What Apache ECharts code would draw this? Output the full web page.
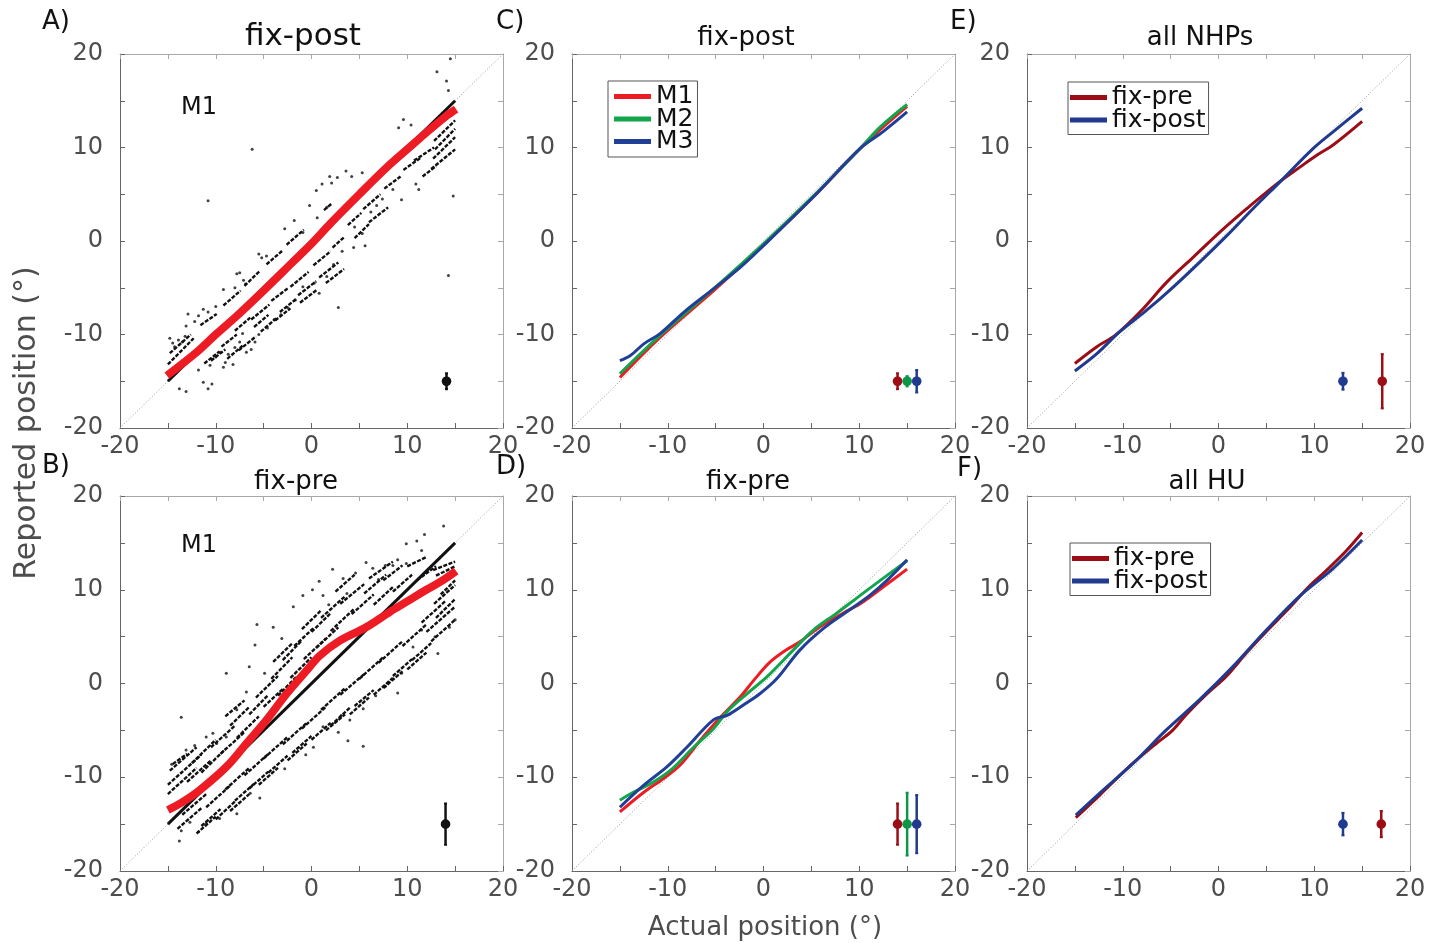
<!DOCTYPE html>
<html>
<head>
<meta charset="utf-8">
<title>Reported vs actual position</title>
<script src="https://cdn.jsdelivr.net/npm/echarts@6/dist/echarts.min.js"></script>
<style>
html, body { margin: 0; padding: 0; background: #fff; }
#chart { width: 1430px; height: 943px; }
</style>
</head>
<body>
<div id="chart"></div>
<script>
// ---- data (degrees) ----
var identity = [[-15, -15], [15, 15]];
var diagonal = [[-20, -20], [20, 20]];

// A) fix-post, M1
var aMean = [[-15.1, -14.4], [-12, -11.9], [-10, -10], [-8, -8.2], [-5, -5.3], [-2, -2.3], [0, -0.3], [2, 1.9], [5, 5], [8, 8], [10, 9.8], [12, 11.6], [14, 13.3], [15.1, 14.1]];
var aDots = [[-14.8, -10.4], [-14.5, -10.9], [-14.3, -11.3], [-13.9, -10.6], [-13.5, -10.8], [-13.2, -10.2], [-12.9, -7.8], [-13.1, -9.1], [-12.2, -8.6], [-11.8, -8.0], [-11.3, -7.3], [-10.8, -7.6], [-10, -7], [-9.2, -5.2], [-8, -5], [-7.8, -3.5], [-7.5, -3.4], [-7.1, -4.2], [-6.9, -4.6], [-5.5, -1.4], [-5.2, -1.8], [-4.7, -1.6], [-2.8, 1.3], [-1.8, 2.2], [-0.9, 0.9], [-0.2, 3.8], [0.5, 5.4], [0.6, 2.5], [1.1, 6.1], [1.6, 3.6], [1.9, 6.9], [2.1, 6.2], [2.7, 6.8], [3.6, 7.5], [4.2, 6.9], [5.3, 7.3], [9.1, 12.1], [9.6, 13], [10.4, 12.4], [13.1, 18.1], [14.1, 17.1], [14.3, 16.1], [14.5, 19.5],
  [-13.8, -15.8], [-13.1, -16.1], [-11.8, -13.8], [-11.3, -15.1], [-10.8, -15.8], [-10.4, -15.3], [-10.6, -13.3], [-10, -12.4], [-9.5, -11.9], [-9.2, -13.5], [-9, -13], [-8.7, -12.1], [-8.2, -13.2], [-8, -11.4], [-7.5, -10.8], [-7.2, -9.9], [-6.8, -11.9], [-6.3, -11.6], [-5.9, -10.8], [-5.5, -10], [-4.6, -9.3], [-3.9, -8.4], [-3.2, -7.9], [-2.5, -7.1], [-1.7, -6.3], [-0.9, -4.9], [0.3, -4.5], [0.8, -5.6], [1.6, -3.8], [2.3, -2.5], [2.8, -7.1], [3.2, -1.1], [4.4, -0.7], [4.5, 1.5], [5.3, 0.8], [5.6, -0.5], [6.2, 3.1], [6.8, 3.8], [7.4, 4.5], [9.4, 4.4], [10.9, 6.1], [11.2, 5.5], [14.8, 4.8], [14.3, -3.7], [-6.2, 9.8], [-10.8, 4.3], [8.5, 5.5]];
var aStreaks = [[-15, -13.2, -12.3, -10.4], [-14.8, -12, -12.6, -10], [-11.6, -9, -9.9, -7.8], [-9.2, -6.9, -7.4, -5.3], [-7, -4.8, -5.4, -3.2], [-4.7, -2.5, -3, -1], [-2.6, -0.4, -0.8, 1.2], [1.3, 3.3, 2.1, 4],
  [-11.2, -13.1, -9.6, -11.8], [-9.4, -11.3, -7.8, -10], [-8, -9.6, -6.4, -8.2], [-7.6, -11.7, -5.8, -10.2], [-6.3, -8.4, -4.4, -6.8], [-5.3, -9.7, -3.6, -8.2], [-4.2, -6.4, -2.4, -5], [-3.3, -7.6, -1.6, -6.2], [-2.2, -4.9, -0.3, -3.3], [-1.4, -5.8, 0.5, -4.3], [0.2, -2.6, 2, -1.1], [0.8, -3.9, 2.8, -2.3], [2.2, -0.7, 3.4, 0.4], [3.8, 1.7, 5.2, 3], [5.4, 3.4, 7.2, 5], [7.6, 5.6, 9.3, 6.9], [9.6, 7.6, 11.4, 8.9], [10.7, 8.6, 12.8, 10], [12.8, 10.7, 15, 12.9], [12.9, 9.8, 15, 12], [12.7, 8.8, 15, 11.1], [12.5, 7.7, 15, 9.8], [11.6, 6.9, 13, 8],
  [-10.5, -12.8, -9, -11.6], [-8.8, -12.6, -7.2, -11.2], [-6, -9.2, -4.5, -7.9], [-3.8, -8.5, -2.2, -7.2], [-1.2, -6.6, 0.6, -5.2], [1.5, -4.5, 3.4, -3], [4.5, 0.3, 6, 1.8], [6, 2, 8, 3.6]];
var aErr = [[14.1, -15, 0.85]];

// B) fix-pre, M1
var bMean = [[-15, -13.5], [-13.4, -12.6], [-11.7, -11.4], [-8.9, -8.9], [-6.8, -6.4], [-4.7, -3.9], [-2.6, -1.1], [-0.5, 1.4], [0.9, 3.0], [3, 4.6], [5.7, 6], [8.2, 7.65], [9.9, 8.7], [12, 10], [13.7, 11], [15.1, 12]];
var bDots = [[-13.6, -3.6], [-8.9, 1.1], [-5.9, 4.1], [-5.7, 6.3], [-4.9, 1.1], [-4, 6], [-1.9, 8.2], [-0.9, 9.4], [0.1, 10], [0.8, 10.9], [1.2, 9.4], [2.2, 12.2], [3.3, 11.2], [3.7, 9.6], [5.7, 12.9], [6.4, 12.3], [7.7, 12.6], [8.5, 12.6], [9, 13.2], [9.9, 14.9], [11, 15.2], [11.5, 14.2], [11.8, 15.9], [13.8, 16.8], [9.9, 12.8], [-6.8, -0.9], [-7.8, -2.8], [-11, -5.7], [-10.3, -5.3], [-13.1, -7.1], [-9.9, -6.4], [-8.9, -5.7], [-14.6, -8.6], [-12.2, -6.6], [-6.5, 1.8], [-3.1, 4.8], [1.8, 8.4], [4.6, 11.8], [7, 11.1],
  [-13.8, -16.8], [-13.6, -15.7], [-12.7, -14.8], [-11.8, -15.8], [-11, -14.9], [-9.6, -14.4], [-7.8, -13.9], [-6.4, -11.7], [0.2, -6.8], [1.2, -4.6], [2.8, -5.2], [3.8, -6.1], [5.4, -6.7], [4, -3.9], [5.4, -2.7], [6.7, -1.3], [7.7, -0.3], [9, -1], [9.4, 1.1], [13.2, 3.2], [14.4, 6], [15, 6.8], [12.9, 5], [11.5, 5.7], [-5.4, -12.2], [-2.8, -9.1], [-0.6, -7.6], [3.1, -3.4], [10.6, 3.9]];
var bStreaks = [[-15, -11.8, -12, -9], [-15, -10.8, -11.5, -7.6], [-14.8, -9.3, -12, -6.8], [-12.5, -8.5, -10, -6], [-11.5, -9.5, -9, -7], [-10.5, -6.8, -8, -4.5], [-9.5, -7.5, -7, -5.2], [-8.5, -4.5, -6.5, -2.5], [-7.8, -5.8, -5.5, -3.5], [-6.5, -3.3, -4.5, -1.2], [-5.8, -1.5, -3.5, 0.8], [-5, -2.5, -3, -0.6], [-4.2, 0.5, -2, 2.8], [-3.5, -1.3, -1.5, 0.8], [-3, 2.5, -1, 4.6], [-2.2, 0.6, 0, 2.8], [-1.8, 4, 0.3, 6], [-0.8, 2.6, 1.5, 4.8], [0, 5.5, 2, 7.5], [0.5, 3.8, 2.8, 6], [1, 7, 3.5, 9.3], [2, 5.6, 4.5, 8], [3, 8.5, 5.5, 10.6], [4.2, 7.4, 6.5, 9.5], [5.5, 9.6, 7.8, 11.6], [6.5, 8.4, 8.5, 10.3], [7.5, 11, 9.5, 12.6], [8.5, 9.8, 10.5, 11.6], [10, 12.5, 12, 13.5], [11, 11, 13, 12.5], [12.7, 12.1, 15, 13], [13, 11.5, 15, 12.5],
  [-14.5, -8.6, -13, -7.5], [-13, -10.5, -10.5, -8.2], [-9, -3.5, -7, -1.8], [-4, 2.3, -2, 4.3], [-1, 5.8, 1, 7.8], [2.5, 9.8, 4.5, 11.6], [6, 11.2, 8.5, 13],
  [-14, -15.5, -11.5, -13.3], [-13.5, -14, -11, -11.8], [-12, -16, -10, -14.2], [-11, -13.2, -8.5, -10.9], [-10, -14.5, -8, -12.6], [-9, -11.3, -6.5, -9], [-8, -12.5, -6, -10.7], [-7, -9.8, -4.5, -7.5], [-6.5, -11.2, -4.5, -9.4], [-5, -8, -2.5, -5.7], [-4.5, -9.5, -2.5, -7.7], [-3, -6.5, -0.5, -4.2], [-2.5, -8.2, -0.5, -6.4], [-1, -4.8, 1.5, -2.5], [0, -6, 2, -4.2], [1, -2.8, 3.5, -0.5], [2, -4.5, 4, -2.6], [3, -1.2, 5.5, 1], [4, -3.3, 6, -1.5], [5, 0.5, 7.5, 2.8], [6.5, -1.2, 8.5, 0.6], [7, 2.2, 9.5, 4.5], [8.5, 0.8, 10.5, 2.6], [9.5, 4, 12, 6.3], [10.5, 2.5, 12.5, 4.3], [11.5, 6.5, 14, 8.8], [12, 5.5, 15, 8.2], [12.8, 8.5, 15, 10.5], [13, 7, 15, 9], [13.5, 9.5, 15, 11],
  [-11.5, -15.2, -9.5, -13.4], [-8.5, -13.6, -6.5, -11.8], [-5.5, -10.8, -3.5, -9], [-2, -7.4, 0, -5.6], [1.5, -5, 3.5, -3.3], [4.5, -2.4, 6.5, -0.7], [7.5, -0.5, 9.5, 1.3], [10, 1.5, 12, 3.3], [12.5, 4.5, 15, 6.8]];
var bErr = [[14.0, -15, 2.2]];

// C) fix-post, M1-M3
var cM1 = [[-15, -14.6], [-10.8, -10.3], [-5.2, -5.3], [0, -0.45], [5.2, 4.7], [10.1, 9.9], [12.5, 12.2], [15, 14.4]];
var cM2 = [[-15, -14.2], [-10.8, -10.1], [-5.2, -5.1], [0, -0.3], [5.2, 4.8], [10.1, 9.9], [12.2, 12.2], [15, 14.6]];
var cM3 = [[-15, -12.8], [-13.9, -12.25], [-12.5, -11], [-10.8, -9.9], [-8.3, -7.6], [-5.2, -5.1], [-2.4, -2.8], [0, -0.5], [5.2, 4.7], [10.1, 9.9], [12.5, 11.7], [15, 13.8]];
var cErr = [[14, -15, 0.85], [15, -15, 0.55], [16, -15, 1.2]];

// D) fix-pre, M1-M3
var dM1 = [[-15, -13.7], [-12.5, -11.6], [-10.4, -10.1], [-8.7, -8.7], [-6.6, -6.05], [-4.5, -3.6], [-2.4, -1.4], [-1, 0.36], [0.7, 2.3], [2.4, 3.6], [3.8, 4.45], [5.9, 6.05], [8.3, 7.5], [10.1, 8.5], [12.5, 10.3], [15, 12.2]];
var dM2 = [[-15, -12.45], [-13.6, -11.6], [-11.8, -10.7], [-9.7, -9.25], [-7.3, -6.8], [-5.2, -4.8], [-3.8, -3], [-1.7, -1.07], [0.35, 0.7], [3.1, 3.56], [5.2, 5.7], [7.65, 7.5], [10.1, 9.4], [12.2, 11], [15, 13.1]];
var dM3 = [[-15, -13.2], [-12.5, -10.85], [-10.1, -8.9], [-8, -6.8], [-5.2, -3.85], [-3.8, -3.4], [-2.1, -2.3], [-0.35, -1.07], [1.4, 0.53], [3.8, 3.56], [6.3, 5.9], [8.7, 7.65], [11.1, 9.4], [12.9, 11], [15, 13.2]];
var dErr = [[14, -15, 2.2], [15, -15, 3.35], [16, -15, 3.1]];

// E) all NHPs
var ePre = [[-15, -13.1], [-12.7, -11.3], [-10.8, -10.1], [-8.2, -7.6], [-5.4, -4.4], [-2.6, -1.7], [0.2, 1], [3, 3.5], [5, 5.2], [6.6, 6.5], [8.5, 7.9], [10.3, 9.2], [12, 10.3], [15, 12.8]];
var ePost = [[-15, -13.9], [-12.7, -12.05], [-10.3, -9.7], [-7.5, -7.4], [-4.7, -4.9], [-1.9, -2.2], [0.9, 0.6], [3.65, 3.5], [6.4, 6.3], [9.9, 9.9], [12, 11.7], [15, 14.2]];
var eErr = [[13.0, -15, 0.9], [17.1, -15, 2.9]];

// F) all HU
var fPre = [[-14.9, -14.3], [-12.4, -11.9], [-10.3, -9.8], [-8.6, -8.2], [-6.5, -6.4], [-4.8, -5], [-3.4, -3.35], [-1.3, -1.2], [0.8, 0.75], [2.9, 3.25], [5, 5.56], [7.06, 7.7], [9.5, 10.4], [11.2, 12], [13.3, 14.1], [15, 16.1]];
var fPost = [[-14.9, -14.05], [-12.4, -11.7], [-8.9, -8.5], [-5.5, -5], [-2, -1.75], [1.5, 1.8], [5, 5.7], [8.45, 9.3], [11.9, 12.2], [15, 15.3]];
var fErr = [[13.0, -15, 1.2], [17.0, -15, 1.4]];

// ---- styling ----
var FONT = "DejaVu Sans";
var GRAY = "#4d4d4d";
var RED = "#ed1c24", GREEN = "#12a54b", BLUE = "#213f96";
var DRED = "#9c0d15", DGREEN = "#0e9648", DBLUE = "#1f3a8f";

// panel order: A, B, C, D, E, F
var grids = [
    { left: 120, top: 54, width: 383, height: 374 },
    { left: 120, top: 496, width: 383, height: 375 },
    { left: 572, top: 54, width: 383, height: 374 },
    { left: 572, top: 496, width: 383, height: 375 },
    { left: 1027, top: 54, width: 383, height: 374 },
    { left: 1027, top: 496, width: 383, height: 375 }
];

function makeAxis(dim, gi, pos, primary) {
    var c = primary ? "#666" : "#a8a8a8";
    return {
        type: "value", gridIndex: gi, position: pos,
        min: -20, max: 20, interval: 5,
        axisLine: { show: true, onZero: false, lineStyle: { color: c, width: 1 } },
        axisTick: { show: true, inside: true, length: 5, lineStyle: { color: c } },
        axisLabel: {
            show: primary, fontSize: 24, fontFamily: FONT, color: GRAY,
            margin: dim === "x" ? 7 : 17,
            formatter: function (v) { return v % 10 === 0 ? String(v) : ""; }
        },
        splitLine: { show: false }
    };
}

var xAxis = [], yAxis = [];
for (var i = 0; i < 6; i++) {
    xAxis.push(makeAxis("x", i, "bottom", true));
    yAxis.push(makeAxis("y", i, "left", true));
}
for (var i = 0; i < 6; i++) {
    xAxis.push(makeAxis("x", i, "top", false));
    yAxis.push(makeAxis("y", i, "right", false));
}

function lineSeries(gi, name, data, color, width, z, smooth) {
    return {
        type: "line", name: name, xAxisIndex: gi, yAxisIndex: gi, data: data,
        symbol: "none", smooth: smooth || false, silent: true, z: z || 3,
        lineStyle: { color: color, width: width }, itemStyle: { color: color }
    };
}
function diagSeries(gi) {
    return {
        type: "line", xAxisIndex: gi, yAxisIndex: gi, data: diagonal, symbol: "none",
        silent: true, z: 1, lineStyle: { color: "#9a9a9a", width: 1, type: [1, 2] }
    };
}
function dotSeries(gi, data) {
    return {
        type: "scatter", xAxisIndex: gi, yAxisIndex: gi, data: data, symbolSize: 3,
        silent: true, z: 2, itemStyle: { color: "#111" }
    };
}
function streakSeries(gi, segs) {
    return {
        type: "lines", coordinateSystem: "cartesian2d", xAxisIndex: gi, yAxisIndex: gi,
        silent: true, z: 2,
        data: segs.map(function (s) { return { coords: [[s[0], s[1]], [s[2], s[3]]] }; }),
        lineStyle: { color: "#111", width: 2.4, type: [4, 1.5], opacity: 1 }
    };
}
function errItem(params, api) {
    var x = api.value(0), y = api.value(1), e = api.value(2);
    var p = api.coord([x, y]), lo = api.coord([x, y - e]), hi = api.coord([x, y + e]);
    var c = api.visual("color");
    return {
        type: "group", children: [
            { type: "line", shape: { x1: p[0], y1: lo[1], x2: p[0], y2: hi[1] }, style: { stroke: c, lineWidth: 2.5 } },
            { type: "line", shape: { x1: p[0] - 1.5, y1: lo[1], x2: p[0] + 1.5, y2: lo[1] }, style: { stroke: c, lineWidth: 2 } },
            { type: "line", shape: { x1: p[0] - 1.5, y1: hi[1], x2: p[0] + 1.5, y2: hi[1] }, style: { stroke: c, lineWidth: 2 } },
            { type: "circle", shape: { cx: p[0], cy: p[1], r: 4.8 }, style: { fill: c } }
        ]
    };
}
function errSeries(gi, point, color) {
    return {
        type: "custom", xAxisIndex: gi, yAxisIndex: gi, data: [point], silent: true, z: 5,
        renderItem: errItem, itemStyle: { color: color }
    };
}

var SM = 0.35;
var series = [];
for (var g = 0; g < 6; g++) series.push(diagSeries(g));
// A
series.push(dotSeries(0, aDots), streakSeries(0, aStreaks));
series.push(lineSeries(0, "A-id", identity, "#111", 3, 3));
series.push(lineSeries(0, "A-mean", aMean, RED, 8, 4, SM));
series.push(errSeries(0, aErr[0], "#111"));
// B
series.push(dotSeries(1, bDots), streakSeries(1, bStreaks));
series.push(lineSeries(1, "B-id", identity, "#111", 3, 3));
series.push(lineSeries(1, "B-mean", bMean, RED, 8, 4, SM));
series.push(errSeries(1, bErr[0], "#111"));
// C
series.push(lineSeries(2, "M1", cM1, RED, 3, 3, SM), lineSeries(2, "M2", cM2, GREEN, 3, 3, SM), lineSeries(2, "M3", cM3, BLUE, 3, 3, SM));
series.push(errSeries(2, cErr[0], DRED), errSeries(2, cErr[1], DGREEN), errSeries(2, cErr[2], DBLUE));
// D
series.push(lineSeries(3, "M1", dM1, RED, 3, 3, SM), lineSeries(3, "M2", dM2, GREEN, 3, 3, SM), lineSeries(3, "M3", dM3, BLUE, 3, 3, SM));
series.push(errSeries(3, dErr[0], DRED), errSeries(3, dErr[1], DGREEN), errSeries(3, dErr[2], DBLUE));
// E
series.push(lineSeries(4, "fix-pre", ePre, DRED, 3, 3, SM), lineSeries(4, "fix-post", ePost, DBLUE, 3, 3, SM));
series.push(errSeries(4, eErr[0], DBLUE), errSeries(4, eErr[1], DRED));
// F
series.push(lineSeries(5, "fix-pre", fPre, DRED, 3, 3, SM), lineSeries(5, "fix-post", fPost, DBLUE, 3, 3, SM));
series.push(errSeries(5, fErr[0], DBLUE), errSeries(5, fErr[1], DRED));

function legendBox(names, left, top, padding) {
    return {
        data: names, left: left, top: top, orient: "vertical", icon: "rect",
        itemWidth: 37, itemHeight: 5, itemGap: -2.5, itemTextGap: 4, selectedMode: false,
        padding: padding, borderColor: "#555", borderWidth: 1, backgroundColor: "#fff",
        textStyle: { fontSize: 25, fontFamily: FONT, color: "#111" }
    };
}

function txt(x, y, s, size, color, align, rot) {
    return {
        type: "text", x: x, y: y, rotation: rot || 0, silent: true, z: 10,
        style: { text: s, fontSize: size, fontFamily: FONT, fill: color, align: align || "left", verticalAlign: "middle" }
    };
}

var texts = [
    txt(42, 22, "A)", 26, "#111"), txt(496, 22, "C)", 26, "#111"), txt(950, 22, "E)", 26, "#111"),
    txt(42, 466, "B)", 26, "#111"), txt(496, 467, "D)", 26, "#111"), txt(957, 469, "F)", 26, "#111"),
    txt(303, 37, "fix-post", 31, "#111", "center"),
    txt(746, 38, "fix-post", 26, "#111", "center"),
    txt(1200, 38, "all NHPs", 26, "#111", "center"),
    txt(296, 482, "fix-pre", 26, "#111", "center"),
    txt(748, 482, "fix-pre", 26, "#111", "center"),
    txt(1207, 482, "all HU", 26, "#111", "center"),
    txt(181, 108, "M1", 24, "#111"),
    txt(181, 546, "M1", 24, "#111"),
    txt(27, 423, "Reported position (°)", 30, GRAY, "center", Math.PI / 2),
    txt(765, 928, "Actual position (°)", 26, GRAY, "center")
];

var chart = echarts.init(document.getElementById("chart"));
chart.setOption({
    animation: false,
    backgroundColor: "#fff",
    grid: grids,
    xAxis: xAxis,
    yAxis: yAxis,
    legend: [
        legendBox(["M1", "M2", "M3"], 608, 81, [3, 4, 3, 6]),
        legendBox(["fix-pre", "fix-post"], 1068, 82, [3, 3, 2, 2]),
        legendBox(["fix-pre", "fix-post"], 1070, 543, [3, 3, 2, 2])
    ],
    graphic: texts,
    series: series
});
</script>
</body>
</html>
